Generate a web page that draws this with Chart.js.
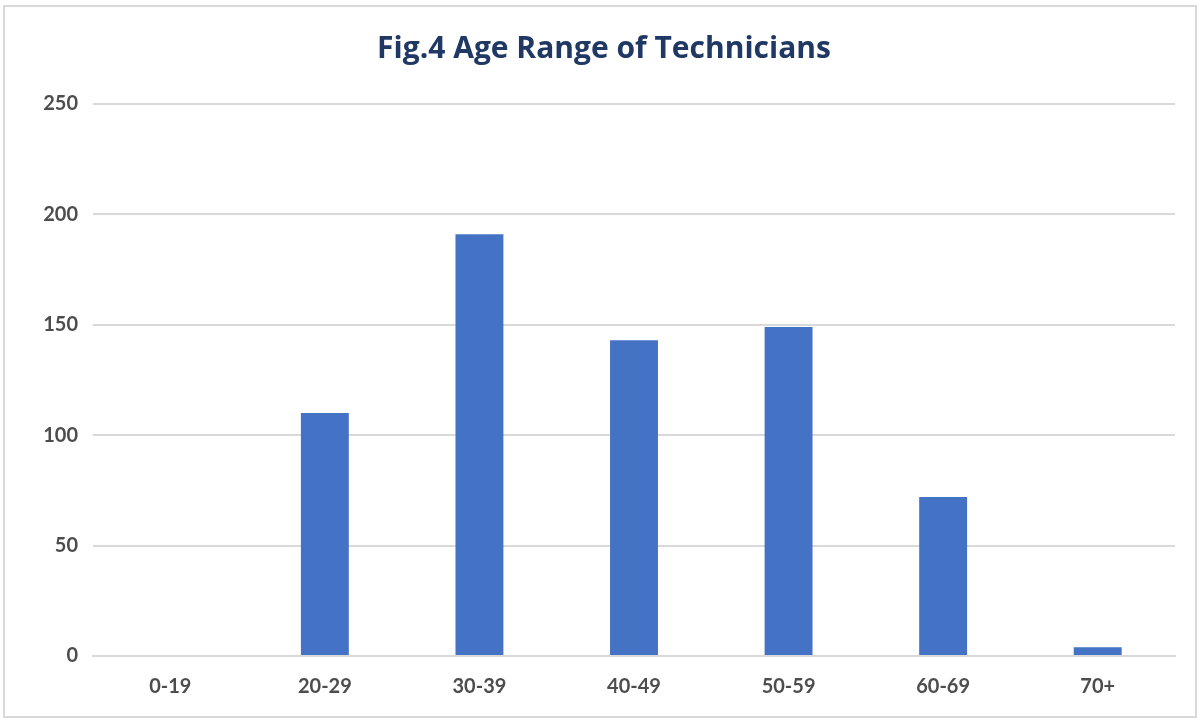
<!DOCTYPE html>
<html>
<head>
<meta charset="utf-8">
<script src="https://cdn.jsdelivr.net/npm/chart.js@4/dist/chart.umd.min.js"></script>
<style>
  body { margin: 0; background: #fff; }
  #wrap { position: relative; width: 1199px; height: 720px; }
  #frame { position: absolute; left: 3px; top: 5px; width: 1190px; height: 709px; border: 2px solid #d9d9d9; }
  canvas { position: absolute; left: 0; top: 0; }
</style>
</head>
<body>
<div id="wrap">
  <div id="frame"></div>
  <canvas id="graph" width="1199" height="720"></canvas>
</div>
<script>
const categories = ['0-19', '20-29', '30-39', '40-49', '50-59', '60-69', '70+'];
const technicians = [0, 110, 191, 143, 149, 72, 4];
const yTicks = [0, 50, 100, 150, 200, 250];
const chartTitle = 'Fig.4 Age Range of Technicians';

const graphRef = document.getElementById('graph');

// Title drawn by hand so it can sit slightly right of the canvas centre, like the original
const titlePlugin = {
  id: 'figTitle',
  afterDraw(chart) {
    const ctx = chart.ctx;
    ctx.save();
    ctx.font = 'bold 30px "Open Sans"';
    ctx.fillStyle = '#1f3864';
    ctx.textAlign = 'center';
    ctx.textBaseline = 'middle';
    ctx.fillText(chartTitle, 604, 49);
    ctx.restore();
  },
};

const chart = new Chart(graphRef, {
  type: 'bar',
  data: {
    labels: categories,
    datasets: [
      {
        label: 'Technicians',
        data: technicians,
        backgroundColor: '#4472c4',
        borderWidth: 0,
        barPercentage: 0.31,
        categoryPercentage: 1,
      },
    ],
  },
  options: {
    responsive: false,
    animation: false,
    layout: { padding: { top: 104, right: 24, bottom: 0, left: 0 } },
    plugins: {
      legend: { display: false },
      tooltip: { enabled: false },
      title: { display: false },
    },
    scales: {
      x: {
        grid: { display: false },
        border: { display: true, color: '#d9d9d9', width: 2 },
        ticks: {
          color: '#4d4d4d',
          font: { family: 'Lato', size: 20, weight: 'bold' },
          padding: 11,
        },
        afterFit: (axis) => { axis.height = 64; },
      },
      y: {
        min: 0,
        max: 250,
        afterBuildTicks: (axis) => {
          axis.ticks = yTicks.map((v) => ({ value: v }));
        },
        grid: { color: '#d9d9d9', lineWidth: 2, drawTicks: false },
        border: { display: false },
        ticks: {
          color: '#4d4d4d',
          font: { family: 'Lato', size: 20, weight: 'bold' },
          padding: 15,
        },
        afterFit: (axis) => { axis.width = 93; },
      },
    },
  },
  plugins: [titlePlugin],
});
</script>
</body>
</html>
